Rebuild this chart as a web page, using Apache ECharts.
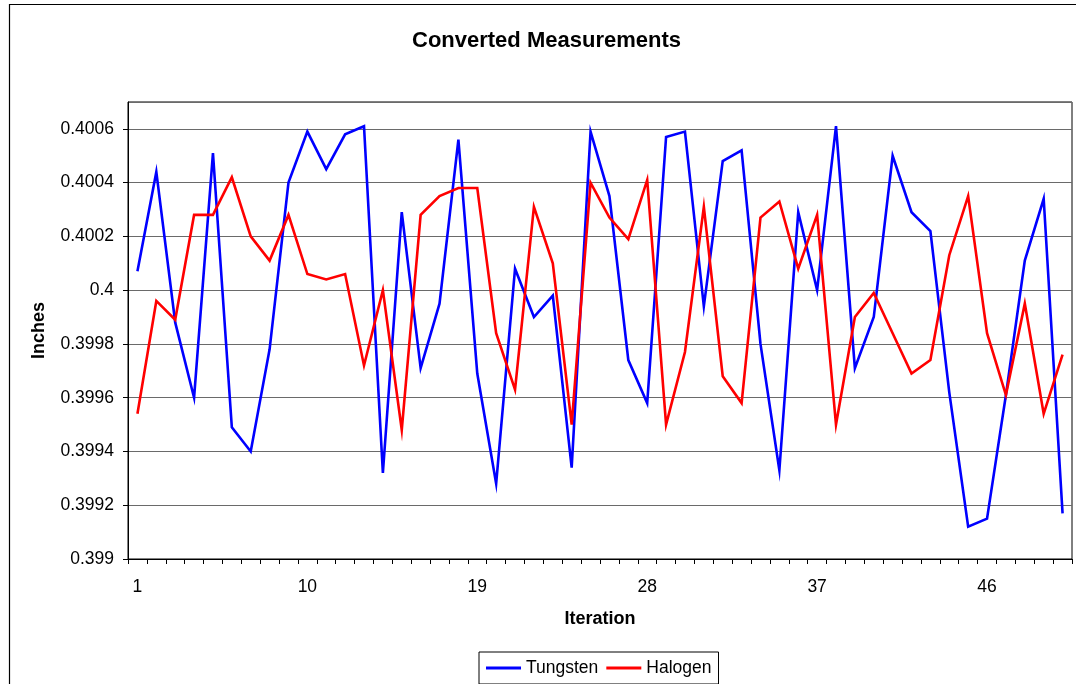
<!DOCTYPE html>
<html>
<head>
<meta charset="utf-8">
<script src="https://cdn.jsdelivr.net/npm/echarts@6/dist/echarts.min.js"></script>
<style>
html,body{margin:0;padding:0;background:#fff;}
#chart{width:1076px;height:684px;}
</style>
</head>
<body>
<div id="chart"></div>
<script>
const iterations = Array.from({length: 50}, (_, i) => String(i + 1));
const tungsten = [
  0.40007, 0.40044, 0.39988, 0.39960, 0.40051, 0.39949, 0.39940, 0.39978, 0.40040, 0.40059,
  0.40045, 0.40058, 0.40061, 0.39932, 0.40029, 0.39971, 0.39995, 0.40056, 0.39969, 0.39928,
  0.40008, 0.39990, 0.39998, 0.39934, 0.40059, 0.40035, 0.39974, 0.39958, 0.40057, 0.40059,
  0.39994, 0.40048, 0.40052, 0.39980, 0.39933, 0.40029, 0.40000, 0.40061, 0.39971, 0.39990,
  0.40050, 0.40029, 0.40022, 0.39962, 0.39912, 0.39915, 0.39961, 0.40011, 0.40034, 0.39917
];
const halogen = [
  0.39954, 0.39996, 0.39989, 0.40028, 0.40028, 0.40042, 0.40020, 0.40011, 0.40028, 0.40006,
  0.40004, 0.40006, 0.39972, 0.40000, 0.39948, 0.40028, 0.40035, 0.40038, 0.40038, 0.39984,
  0.39963, 0.40031, 0.40010, 0.39950, 0.40040, 0.40027, 0.40019, 0.40041, 0.39950, 0.39977,
  0.40031, 0.39968, 0.39958, 0.40027, 0.40033, 0.40008, 0.40028, 0.39950, 0.39990, 0.39999,
  0.39984, 0.39969, 0.39974, 0.40013, 0.40035, 0.39984, 0.39961, 0.39995, 0.39954, 0.39976
];
const yMin = 0.399, yMax = 0.4007, yStep = 0.0002;

const FONT = '"Liberation Sans", Arial, sans-serif';
const chart = echarts.init(document.getElementById('chart'), null, {renderer: 'canvas'});
chart.setOption({
  animation: false,
  backgroundColor: '#fff',
  graphic: [{
    type: 'rect', silent: true, z: -10,
    shape: {x: 9.5, y: 4.5, width: 1200, height: 800},
    style: {fill: 'none', stroke: '#000', lineWidth: 1.2}
  }],
  title: {
    text: 'Converted Measurements',
    left: 412, top: 30, padding: 0,
    textStyle: {fontFamily: FONT, fontSize: 22, fontWeight: 'bold', color: '#000'}
  },
  legend: {
    left: 479, top: 652,
    padding: [7, 7, 7, 7],
    icon: 'rect',
    itemWidth: 35, itemHeight: 3, itemGap: 8,
    borderColor: '#000', borderWidth: 1,
    textStyle: {fontFamily: FONT, fontSize: 17.5, color: '#000'},
    data: ['Tungsten', 'Halogen']
  },
  grid: {
    left: 128, right: 4, top: 102, bottom: 125,
    show: true, borderColor: '#000', borderWidth: 1, backgroundColor: 'transparent'
  },
  xAxis: {
    type: 'category',
    data: iterations,
    boundaryGap: true,
    name: 'Iteration',
    nameLocation: 'middle',
    nameGap: 51,
    nameTextStyle: {fontFamily: FONT, fontSize: 18, fontWeight: 'bold', color: '#000'},
    axisLine: {lineStyle: {color: '#000', width: 1}},
    axisTick: {show: true, interval: 0, length: 5, lineStyle: {color: '#000'}},
    axisLabel: {interval: 8, margin: 19, fontFamily: FONT, fontSize: 17.5, color: '#000'},
    splitLine: {show: false}
  },
  yAxis: {
    type: 'value',
    min: yMin, max: yMax, interval: yStep,
    name: 'Inches',
    nameLocation: 'middle',
    nameGap: 80,
    nameRotate: 90,
    nameTextStyle: {fontFamily: FONT, fontSize: 18, fontWeight: 'bold', color: '#000'},
    axisLine: {show: true, lineStyle: {color: '#000', width: 1}},
    axisTick: {show: true, length: 5, lineStyle: {color: '#000'}},
    axisLabel: {
      margin: 14, fontFamily: FONT, fontSize: 17.5, color: '#000',
      showMaxLabel: false,
      formatter: v => String(+v.toFixed(4))
    },
    splitLine: {show: true, lineStyle: {color: '#6a6a6a', width: 1}}
  },
  series: [
    {
      name: 'Tungsten', type: 'line', data: tungsten,
      symbol: 'none', showSymbol: false,
      lineStyle: {color: '#0000FF', width: 2.6, join: 'miter'},
      itemStyle: {color: '#0000FF'}
    },
    {
      name: 'Halogen', type: 'line', data: halogen,
      symbol: 'none', showSymbol: false,
      lineStyle: {color: '#FF0000', width: 2.6, join: 'miter'},
      itemStyle: {color: '#FF0000'}
    }
  ]
});
</script>
</body>
</html>
